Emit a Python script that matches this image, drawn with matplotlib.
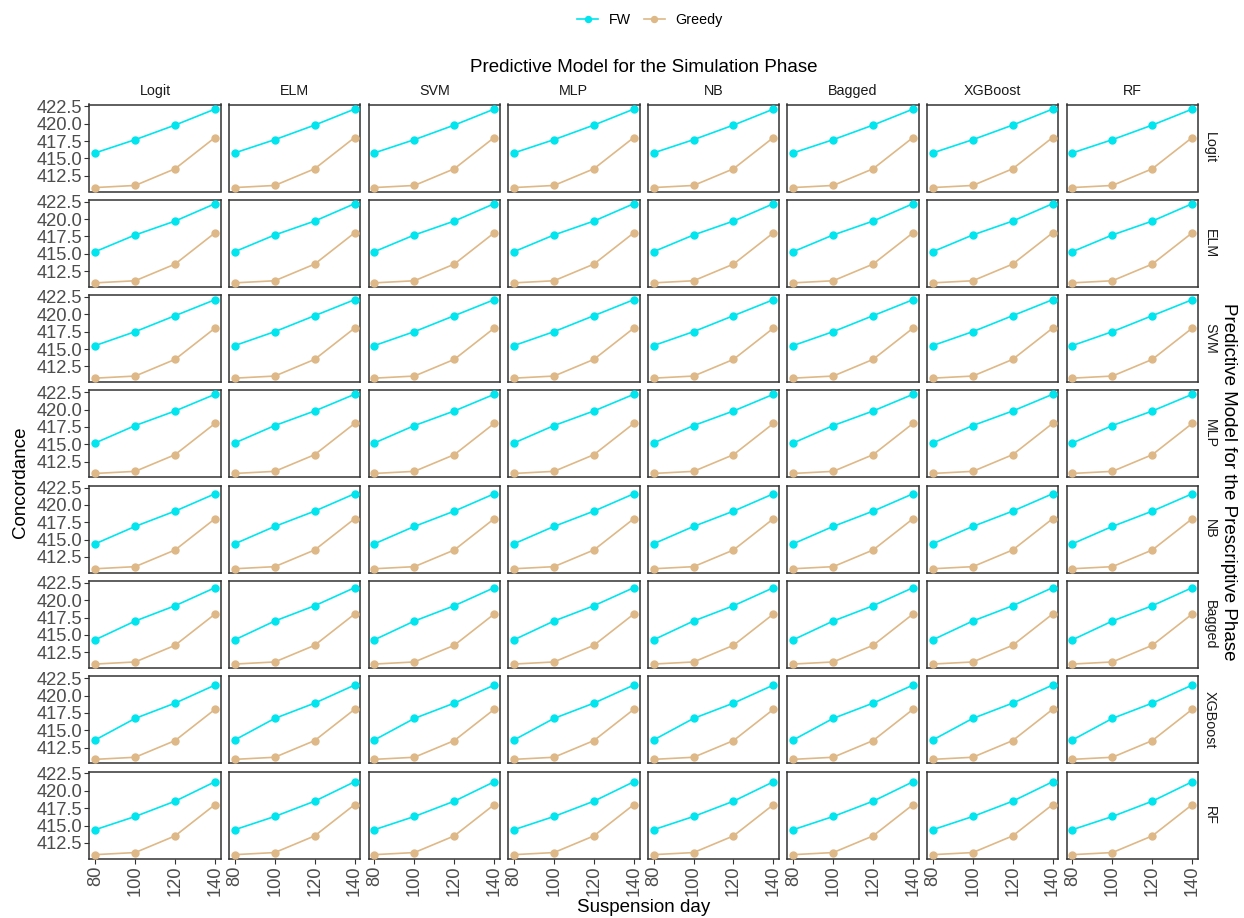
import matplotlib
matplotlib.use("Agg")
import matplotlib.pyplot as plt
from matplotlib.lines import Line2D
import numpy as np

plt.rcParams['font.family'] = ['Liberation Sans', 'DejaVu Sans']

# ---- data ----
sim_models = ["Logit", "ELM", "SVM", "MLP", "NB", "Bagged", "XGBoost", "RF"]   # columns
presc_models = ["Logit", "ELM", "SVM", "MLP", "NB", "Bagged", "XGBoost", "RF"]  # rows
days = [80, 100, 120, 140]
fw_logit = [415.8, 417.7, 419.8, 422.1]
fw_elm = [415.3, 417.7, 419.7, 422.2]
fw_svm = [415.5, 417.5, 419.8, 422.1]
fw_mlp = [415.2, 417.7, 419.8, 422.2]
fw_nb = [414.4, 416.9, 419.1, 421.6]
fw_bagged = [414.3, 417.0, 419.2, 421.8]
fw_xgboost = [413.6, 416.7, 418.9, 421.5]
fw_rf = [414.4, 416.3, 418.5, 421.3]
greedy = [410.8, 411.1, 413.5, 418.0]
fw_rows = [fw_logit, fw_elm, fw_svm, fw_mlp, fw_nb, fw_bagged, fw_xgboost, fw_rf]
y_ticks = [412.5, 415.0, 417.5, 420.0, 422.5]
x_ticks = [80, 100, 120, 140]

FW_COL = '#00E5EE'
GR_COL = '#DEB887'
DARK = '#333333'
TICKLAB = '#4D4D4D'

W, H = 1244, 918
fig = plt.figure(figsize=(W / 100, H / 100), dpi=100)

left0, top0 = 89.3, 104.5
pw, ph = 131.6, 87.0
gx, gy = 8.0, 8.3

allv = np.concatenate([np.array(fw_rows).ravel(), greedy])
lo, hi = allv.min(), allv.max()
ylim = (lo - 0.05 * (hi - lo), hi + 0.05 * (hi - lo))
xr = max(days) - min(days)
xlim = (min(days) - 0.05 * xr, max(days) + 0.05 * xr)

for r, rname in enumerate(presc_models):
    for c, cname in enumerate(sim_models):
        x0 = left0 + c * (pw + gx)
        y0 = top0 + r * (ph + gy)
        ax = fig.add_axes([x0 / W, 1 - (y0 + ph) / H, pw / W, ph / H])
        ax.plot(days, fw_rows[r], color=FW_COL, lw=1.2, marker='o', ms=5.0, zorder=3)
        ax.plot(days, greedy, color=GR_COL, lw=1.2, marker='o', ms=5.0, zorder=3)
        ax.set_xlim(*xlim)
        ax.set_ylim(*ylim)
        for s in ax.spines.values():
            s.set_color(DARK)
            s.set_linewidth(1.1)
        ax.set_xticks(x_ticks)
        ax.set_yticks(y_ticks)
        ax.tick_params(colors=DARK, length=3.5, width=0.8, labelcolor=TICKLAB, labelsize=13.2, pad=1.5)
        if c == 0:
            ax.set_yticklabels([f"{v:.1f}" for v in y_ticks])
        else:
            ax.tick_params(axis='y', left=False, labelleft=False)
        if r == len(presc_models) - 1:
            ax.set_xticklabels([str(v) for v in x_ticks], rotation=90)
        else:
            ax.tick_params(axis='x', bottom=False, labelbottom=False)
        if r == 0:
            fig.text((x0 + pw / 2) / W, 1 - 91 / H, cname, ha='center', va='center',
                     fontsize=10.3, color='#1A1A1A')
        if c == len(sim_models) - 1:
            fig.text((x0 + pw + 12) / W, 1 - (y0 + ph / 2) / H, rname, ha='center', va='center',
                     rotation=-90, fontsize=10.3, color='#1A1A1A')

# titles
fig.text(643.7 / W, 1 - 67.5 / H, "Predictive Model for the Simulation Phase", ha='center', va='center',
         fontsize=13.5, color='black')
fig.text(1229 / W, 1 - 482 / H, "Predictive Model for the Prescriptive Phase", ha='center', va='center',
         rotation=-90, fontsize=13.5, color='black')
fig.text(21 / W, 1 - 482 / H, "Concordance", ha='center', va='center', rotation=90,
         fontsize=13.5, color='black')
fig.text(643.7 / W, 1 - 908 / H, "Suspension day", ha='center', va='center',
         fontsize=13.5, color='black')

handles = [Line2D([0], [0], color=FW_COL, lw=1.2, marker='o', ms=4.3),
           Line2D([0], [0], color=GR_COL, lw=1.2, marker='o', ms=4.3)]
fig.legend(handles, ["FW", "Greedy"], loc='center', bbox_to_anchor=(650 / W, 1 - 20 / H), ncol=2,
           frameon=False, fontsize=10.3, handlelength=1.45, handletextpad=0.75, columnspacing=0.9)

fig.savefig("out.png", dpi=100)
